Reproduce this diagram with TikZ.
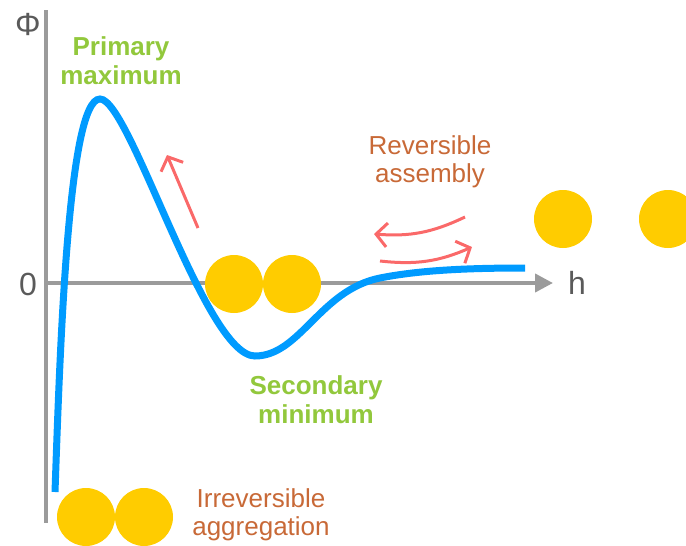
\documentclass[tikz,border=0pt]{standalone}
\usepackage{fontspec}
\setmainfont{Liberation Sans}
\usetikzlibrary{arrows.meta,positioning}
\definecolor{curveblue}{RGB}{0,155,255}
\definecolor{axisgray}{RGB}{155,155,155}
\definecolor{textgray}{RGB}{90,90,90}
\definecolor{ballyellow}{RGB}{255,204,0}
\definecolor{arrowred}{RGB}{250,105,105}
\definecolor{labelgreen}{RGB}{146,200,60}
\definecolor{labelorange}{RGB}{200,105,55}

\begin{document}
\begin{tikzpicture}[x=1pt, y=-1pt, every node/.style={inner sep=0pt},
    axis/.style={draw=axisgray, line width=4pt},
    ball/.style={circle, fill=ballyellow, minimum size=58pt},
    hint/.style={draw=arrowred, line width=3pt, -{Straight Barb[length=11pt,width=24pt]}},
    greenlbl/.style={text=labelgreen, font=\fontsize{26}{29}\selectfont\bfseries, align=center},
    orangelbl/.style={text=labelorange, font=\fontsize{26}{28}\selectfont, align=center},
    axislbl/.style={text=textgray, font=\fontsize{32}{36}\selectfont}]
    \useasboundingbox (0,0) rectangle (686,546);
    % axes
    \coordinate (origin) at (46,283);
    \coordinate (ytop) at (46,10);
    \coordinate (ybot) at (46,523);
    \coordinate (xend) at (553,283);
    \draw[axis] (ytop) -- (ybot);
    \draw[axis, -{Triangle[length=18pt,width=18pt]}] (origin) -- (xend);
    \node[axislbl] (phi) at (28,24) {Φ};
    \node[axislbl] (zero) at (28,284) {0};
    \node[axislbl] (hlbl) at (577,283) {h};
    % interaction potential
    \draw[curveblue, line width=7pt]
      (55,492) .. controls (60,350) and (68,99) .. (100,99)
      .. controls (130,99) and (205,356) .. (255,356)
      .. controls (300,356) and (320,290) .. (380,278)
      .. controls (420,270) and (470,268) .. (525,268);
    % particles
    \node[ball] (minA) at (234,284) {};
    \node[ball] (minB) at (292,284) {};
    \node[ball] (aggA) at (86,517) {};
    \node[ball] (aggB) at (144,517) {};
    \node[ball] (freeA) at (563,219) {};
    \node[ball] (freeB) at (668,219) {};
    % labels
    \node[greenlbl] (lblmax) at (121,61) {Primary\\maximum};
    \node[greenlbl] (lblmin) at (316,400) {Secondary\\minimum};
    \node[orangelbl] (lblrev) at (430,162) {Reversible\\assembly};
    \node[orangelbl] (lblirr) at (261,515) {Irreversible\\aggregation};
    % hints
    \coordinate (up0) at (198,228);
    \coordinate (up1) at (167,155);
    \coordinate (back0) at (465,217);
    \coordinate (back1) at (374,234);
    \coordinate (fwd0) at (380,261);
    \coordinate (fwd1) at (472,247);
    \draw[hint] (up0) -- (up1);
    \draw[hint] (back0) to[bend left=15] (back1);
    \draw[hint] (fwd0) to[bend right=15] (fwd1);
\end{tikzpicture}
\end{document}
